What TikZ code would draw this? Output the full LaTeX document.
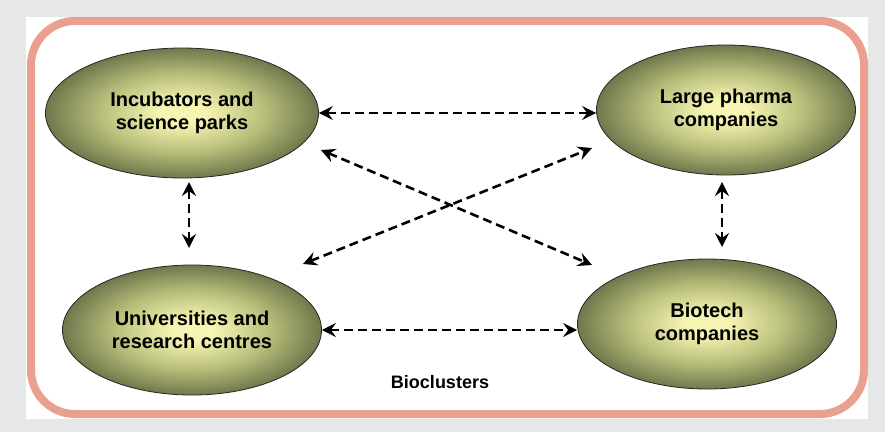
\documentclass[tikz,border=0pt]{standalone}
\usepackage{fontspec}
\setmainfont{Liberation Sans}
\usetikzlibrary{arrows.meta,shapes.geometric}
\definecolor{pagegray}{RGB}{230,231,233}
\definecolor{rimsalmon}{RGB}{234,160,142}
\definecolor{ovalin}{RGB}{246,246,178}
\definecolor{ovalmid}{RGB}{184,190,122}
\definecolor{ovalout}{RGB}{112,120,76}
\pgfdeclareradialshading{ovalshade}{\pgfpoint{0bp}{0bp}}{color(0bp)=(ovalin); color(4bp)=(ovalin); color(15bp)=(ovalmid); color(25bp)=(ovalout); color(50bp)=(ovalout)}
\tikzset{oval/.style={ellipse,draw=black!85,thick,shading=ovalshade,inner sep=0pt,
  minimum width=259pt,minimum height=130pt,align=center,
  font=\bfseries\fontsize{20}{23}\selectfont}}
\tikzset{link/.style={{Stealth[length=14pt,width=14pt,inset=5pt]}-{Stealth[length=14pt,width=14pt,inset=5pt]},
  line width=2.6pt,dash pattern=on 9pt off 5pt}}

\begin{document}
\begin{tikzpicture}[x=1pt,y=-1pt]
        \fill[pagegray] (0,0) rectangle (885,432);
        \fill[white] (26,17) rectangle (868,419);
        \draw[rimsalmon,line width=8pt,rounded corners=44pt] (31,21) rectangle (864,414);
        \node[oval,minimum width=273pt] (inc) at (182,113) {Incubators and\\science parks};
        \node[oval] (pharma) at (726,110) {Large pharma\\companies};
        \node[oval] (univ) at (192,330) {Universities and\\research centres};
        \node[oval] (bio) at (707,324) {Biotech\\companies};
        \node[font=\bfseries\fontsize{18}{20}\selectfont] (title) at (440,382) {Bioclusters};
        \coordinate (incdown) at (189,182);
        \coordinate (univup) at (189,248);
        \coordinate (pharmadown) at (722,182);
        \coordinate (bioup) at (722,247);
        \coordinate (incslant) at (321,150);
        \coordinate (bioslant) at (592,265);
        \coordinate (univslant) at (303,264);
        \coordinate (pharmaslant) at (592,148);
        \draw[link] (inc.east) -- (inc.east -| pharma.west);
        \draw[link] (univ.east) -- (univ.east -| bio.west);
        \draw[link] (incslant) -- (bioslant);
        \draw[link] (univslant) -- (pharmaslant);
        \draw[link] (incdown) -- (univup);
        \draw[link] (pharmadown) -- (bioup);
\end{tikzpicture}
\end{document}
